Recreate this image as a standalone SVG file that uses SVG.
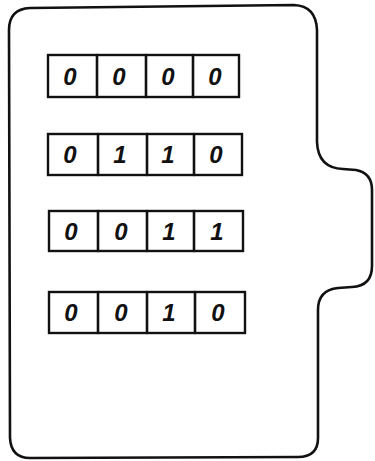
<svg xmlns="http://www.w3.org/2000/svg" width="375" height="461" viewBox="0 0 375 461">
<style>
.o{fill:none;stroke:#111;stroke-width:2.6;stroke-linejoin:round;stroke-linecap:round}
.c{fill:#fff;stroke:#111;stroke-width:2.4}
.d{font-family:"Liberation Sans",Arial,sans-serif;font-style:italic;font-weight:bold;font-size:24px;fill:#111;text-anchor:middle}
</style>
<rect width="375" height="461" fill="#fff"/>
<g id="card">
<path class="o" d="M 30,8 L 294,5 Q 316,6 317,30 L 317,142 Q 318,168 343,169 L 356,170 Q 372,173 372,190 L 372,266 Q 372,286 352,287 L 338,288 Q 318,290 318,310 L 318,438 Q 318,457 298,457 L 30,458 Q 11,458 10,438 L 9,30 Q 9,9 30,8 Z"/>
</g>
<g id="row1">
<rect class="c" x="48" y="55" width="191" height="42"/>
<path class="o" d="M97,55 V97 M146,55 V97 M193,55 V97"/>
<text class="d" x="70" y="85">0</text><text class="d" x="119" y="85">0</text><text class="d" x="168" y="85">0</text><text class="d" x="215" y="85">0</text>
</g>
<g id="row2">
<rect class="c" x="48" y="134" width="194" height="41"/>
<path class="o" d="M98,134 V175 M147,134 V175 M194,134 V175"/>
<text class="d" x="70" y="163">0</text><text class="d" x="120" y="163">1</text><text class="d" x="168" y="163">1</text><text class="d" x="216" y="163">0</text>
</g>
<g id="row3">
<rect class="c" x="49" y="211" width="194" height="40"/>
<path class="o" d="M98,211 V251 M147,211 V251 M194,211 V251"/>
<text class="d" x="71" y="240">0</text><text class="d" x="121" y="240">0</text><text class="d" x="169" y="240">1</text><text class="d" x="217" y="240">1</text>
</g>
<g id="row4">
<rect class="c" x="49" y="292" width="196" height="41"/>
<path class="o" d="M98,292 V333 M147,292 V333 M195,292 V333"/>
<text class="d" x="71" y="321">0</text><text class="d" x="121" y="321">0</text><text class="d" x="169" y="321">1</text><text class="d" x="218" y="321">0</text>
</g>
</svg>
